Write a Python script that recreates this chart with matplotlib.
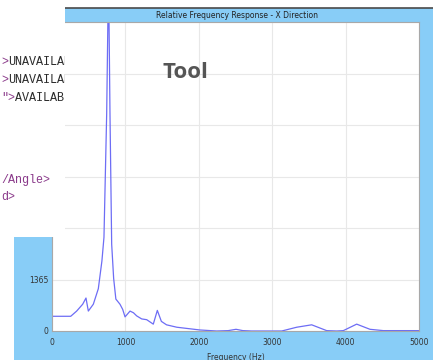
import matplotlib

matplotlib.use('agg')
import matplotlib.pyplot as plt
import matplotlib.patches as mpatches
from matplotlib.lines import Line2D
import numpy as np

# frequency response (Hz, response)
freq = [0, 255, 336, 418, 463, 495, 563, 631, 680, 708, 745, 770,
        790, 813, 840, 870, 926, 963, 995, 1063, 1110, 1154, 1222, 1290,
        1380, 1435, 1490, 1560, 1700, 2016, 2244, 2400, 2507, 2600, 2721,
        3130, 3334, 3538, 3742, 3879, 3969, 4151, 4332, 4514, 5000]
resp = [390, 390, 528, 710, 874, 528, 710, 1120, 1856, 2484, 5760, 9500,
        5760, 2300, 1392, 846, 710, 573, 374, 528, 483, 400, 320, 300,
        182, 546, 255, 164, 100, 27, 0, 10, 45, 10, 0,
        0, 100, 164, 10, 0, 10, 182, 45, 10, 10]

y_step = 1365
x_ticks = [0, 1000, 2000, 3000, 4000, 5000]
y_labels = ['0', '1365', '', '', '', '', '']  # the rest sit under the editor window
title = 'Relative Frequency Response - X Direction'
xlabel = 'Frequency (Hz)'
code_lines = [
    (62, '>', 'UNAVAILABLE'),
    (80, '>', 'UNAVAILABLE'),
    (98, '">', 'AVAILABLE'),
    (180, '/Angle>', ''),
    (197, 'd>', ''),
]

W, H = 433, 360
BLUE = '#88cdf7'
PURPLE = '#8a3a8a'
narrow = ['Liberation Sans Narrow', 'DejaVu Sans']


def fx(x):
    return x / W


def fy(y):
    return 1 - y / H


fig = plt.figure(figsize=(W / 100, H / 100), dpi=100, facecolor='white')

# chart window behind the editor
fig.patches.append(mpatches.Rectangle((fx(14), 0), fx(W - 14), fy(8), transform=fig.transFigure,
                                      facecolor=BLUE, edgecolor='none', zorder=-2))
fig.lines.append(Line2D([fx(14), 1], [fy(8), fy(8)], transform=fig.transFigure,
                        color='#4a4a4a', lw=1.2, zorder=-1))
fig.text(fx(237), fy(15), title, ha='center', va='center', fontsize=5.5,
         family=narrow, color='#222222', zorder=-1)

ax = fig.add_axes([fx(52), fy(331), fx(419 - 52), (331 - 22) / H])
ax.set_facecolor('white')
ax.plot(freq, resp, color='#6d6df5', lw=0.9, clip_on=True)
ax.set_xlim(0, 5000)
ax.set_ylim(0, 6 * y_step)
ax.set_xticks(x_ticks)
ax.set_yticks(np.arange(0, 6 * y_step + 1, y_step))
ax.set_yticklabels(y_labels)
ax.grid(True, color='#e8e8e8', lw=0.8)
ax.set_axisbelow(True)
ax.tick_params(length=0, labelsize=5.5, labelcolor='#333333')
ax.tick_params(axis='x', pad=5)
ax.tick_params(axis='y', pad=2.5)
for lab in ax.get_xticklabels() + ax.get_yticklabels():
    lab.set_family(narrow)
for s in ax.spines.values():
    s.set_color('#a8a8a8')
    s.set_linewidth(0.8)
ax.set_xlabel(xlabel, fontsize=5.5, family=narrow, color='#333333', labelpad=4)

fig.text(fx(185), fy(73), 'Tool', ha='center', va='center', fontsize=16,
         fontweight='bold', family=['Open Sans', 'DejaVu Sans'], color='#555555')

# code editor window on top
editor = mpatches.Rectangle((0, fy(237)), fx(65), 1 - fy(237), transform=fig.transFigure,
                            facecolor='white', edgecolor='none', zorder=5)
fig.patches.append(editor)

fs = 8.5
cw = fs * 0.6 * 100 / 72 / W
for y, pre, rest in code_lines:
    t = fig.text(fx(1), fy(y), pre, ha='left', va='center', fontsize=fs,
                 family=['Liberation Mono', 'DejaVu Sans Mono'], color=PURPLE, zorder=6)
    t.set_clip_path(editor)
    if rest:
        t2 = fig.text(fx(1) + cw * len(pre), fy(y), rest, ha='left', va='center', fontsize=fs,
                      family=['Liberation Mono', 'DejaVu Sans Mono'], color='#2a2a2a', zorder=6)
        t2.set_clip_path(editor)

fig.savefig('out.png', dpi=100, facecolor='white')
